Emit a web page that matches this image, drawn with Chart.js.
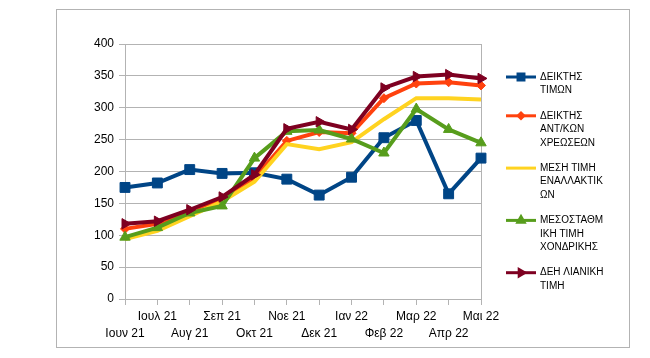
<!DOCTYPE html>
<html>
<head>
<meta charset="utf-8">
<script src="https://cdn.jsdelivr.net/npm/chart.js@4/dist/chart.umd.min.js"></script>
<style>
  html, body { margin: 0; padding: 0; background: #fff; }
  #wrap { width: 650px; height: 358px; }
</style>
</head>
<body>
<div id="wrap"><canvas id="myChart" width="650" height="358"></canvas></div>
<script>
(function () {
  const months = ["Ιουν 21", "Ιουλ 21", "Αυγ 21", "Σεπ 21", "Οκτ 21", "Νοε 21",
                  "Δεκ 21", "Ιαν 22", "Φεβ 22", "Μαρ 22", "Απρ 22", "Μαι 22"];

  const priceIndex = [175, 182, 203, 197, 198, 188, 163, 191, 253, 280, 165, 221];
  const chargesIndex = [110, 118, 138, 157, 190, 248, 262, 260, 315, 338, 340, 335];
  const altAverage = [94, 107, 130, 153, 184, 243, 235, 246, 282, 315, 315, 313];
  const wholesale = [97, 112, 135, 146, 221, 263, 265, 251, 229, 298, 266, 245];
  const deiRetail = [118, 122, 140, 160, 195, 267, 278, 266, 331, 349, 352, 346];

  const seriesNames = [
    ["ΔΕΙΚΤΗΣ", "ΤΙΜΩΝ"],
    ["ΔΕΙΚΤΗΣ", "ΑΝΤ/ΚΩΝ", "ΧΡΕΩΣΕΩΝ"],
    ["ΜΕΣΗ ΤΙΜΗ", "ΕΝΑΛΛΑΚΤΙΚ", "ΩΝ"],
    ["ΜΕΣΟΣΤΑΘΜ", "ΙΚΗ ΤΙΜΗ", "ΧΟΝΔΡΙΚΗΣ"],
    ["ΔΕΗ ΛΙΑΝΙΚΗ", "ΤΙΜΗ"],
  ];

  const FONT = "'Liberation Sans', Arial, sans-serif";
  const GRID = "#b3b3b3";

  // two-row month labels: even months on the lower line
  const tickLabels = months.map((m, i) => (i % 2 === 0 ? ["", m] : [m]));

  const frame = {
    id: "frame",
    beforeDraw(chart) {
      const ctx = chart.ctx;
      ctx.save();
      ctx.fillStyle = "#fff";
      ctx.fillRect(0, 0, chart.width, chart.height);
      ctx.strokeStyle = GRID;
      ctx.lineWidth = 1;
      ctx.strokeRect(56.5, 9.5, 573, 338);
      ctx.restore();
    },
    beforeDatasetsDraw(chart) {
      const a = chart.chartArea;
      const ctx = chart.ctx;
      ctx.save();
      ctx.strokeStyle = GRID;
      ctx.lineWidth = 1;
      ctx.beginPath();
      ctx.moveTo(Math.round(a.right) + 0.5, a.top);
      ctx.lineTo(Math.round(a.right) + 0.5, a.bottom + 6);
      ctx.stroke();
      ctx.restore();
    },
    afterDraw(chart) {
      const ctx = chart.ctx;
      const lineH = 13.5;
      let y = 77;
      ctx.save();
      chart.data.datasets.forEach((ds, i) => {
        ctx.strokeStyle = ds.borderColor;
        ctx.lineWidth = 3;
        ctx.beginPath();
        ctx.moveTo(506, y);
        ctx.lineTo(536, y);
        ctx.stroke();
        if (ds.pointRadius > 0) {
          ctx.fillStyle = ds.borderColor;
          ctx.strokeStyle = ds.borderColor;
          Chart.helpers.drawPoint(ctx, {
            pointStyle: ds.pointStyle,
            rotation: ds.pointRotation || 0,
            radius: ds.pointRadius * 0.6,
            borderWidth: 1,
          }, 521, y);
        }
        ctx.fillStyle = "#000";
        ctx.font = "10px " + FONT;
        ctx.textBaseline = "middle";
        ctx.textAlign = "left";
        const lines = seriesNames[i];
        lines.forEach((t, k) => ctx.fillText(t, 540, y + k * lineH));
        y += (lines.length - 1) * lineH + 25.3;
      });
      ctx.restore();
    },
  };

  function series(label, data, color, style, radius, order, rot) {
    return {
      label: label,
      data: data,
      borderColor: color,
      backgroundColor: color,
      borderWidth: 4,
      pointStyle: style,
      pointRadius: radius,
      pointRotation: rot || 0,
      pointBorderWidth: 1,
      tension: 0,
      order: order,
    };
  }

  new Chart(document.getElementById("myChart"), {
    type: "line",
    plugins: [frame],
    data: {
      labels: tickLabels,
      datasets: [
        series(seriesNames[0].join(" "), priceIndex, "#004586", "rect", 7, 5),
        series(seriesNames[1].join(" "), chargesIndex, "#ff420e", "rectRot", 4.5, 4),
        series(seriesNames[2].join(" "), altAverage, "#ffd320", "circle", 0, 3),
        series(seriesNames[3].join(" "), wholesale, "#579d1c", "triangle", 6, 2),
        series(seriesNames[4].join(" "), deiRetail, "#7e0021", "triangle", 6, 1, 90),
      ],
    },
    options: {
      responsive: false,
      animation: false,
      layout: { padding: { left: 0, top: 44, right: 169, bottom: 0 } },
      plugins: {
        legend: { display: false },
        tooltip: { enabled: false },
      },
      scales: {
        x: {
          offset: false,
          afterFit: (s) => { s.height = 59; },
          grid: { drawOnChartArea: false, drawTicks: true, tickLength: 6, color: GRID },
          border: { color: GRID },
          ticks: {
            autoSkip: false,
            maxRotation: 0,
            padding: 3,
            color: "#000",
            font: { family: FONT, size: 12, lineHeight: 1.4 },
          },
        },
        y: {
          min: 0,
          max: 400,
          afterFit: (s) => { s.width = 125; },
          grid: { color: GRID, tickLength: 6 },
          border: { color: GRID },
          ticks: {
            stepSize: 50,
            padding: 5,
            color: "#000",
            font: { family: FONT, size: 12 },
          },
        },
      },
    },
  });
})();
</script>
</body>
</html>
